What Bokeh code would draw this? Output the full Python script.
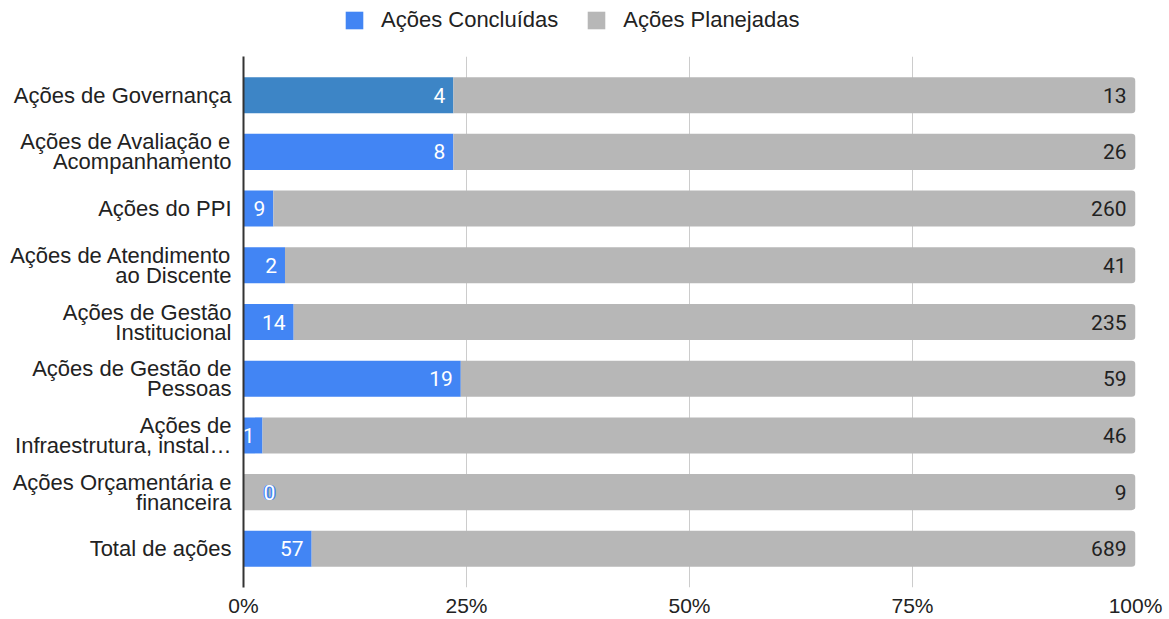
from bokeh.plotting import figure
from bokeh.layouts import column
from bokeh.models import (ColumnDataSource, FactorRange, FixedTicker, NumeralTickFormatter,
                          Legend, LegendItem, Range1d)
from bokeh.core.properties import value
from bokeh.embed import file_html
from bokeh.resources import INLINE

categories = [
    "Ações de Governança",
    "Ações de Avaliação e\nAcompanhamento",
    "Ações do PPI",
    "Ações de Atendimento\nao Discente",
    "Ações de Gestão\nInstitucional",
    "Ações de Gestão de\nPessoas",
    "Ações de\nInfraestrutura, instal…",
    "Ações Orçamentária e\nfinanceira",
    "Total de ações",
]
concluidas = [4, 8, 9, 2, 14, 19, 1, 0, 57]
planejadas = [13, 26, 260, 41, 235, 59, 46, 9, 689]
tick_values = [0, 0.25, 0.5, 0.75, 1.0]
series_names = ["Ações Concluídas", "Ações Planejadas"]

BLUE = "#4285f4"
BLUE_HI = "#3d85c6"
GRAY = "#b7b7b7"
TEXT = "#222222"
AXIS_FONT = "Liberation Sans"
DATA_FONT = "Roboto"
highlight_index = 0

totals = [c + p for c, p in zip(concluidas, planejadas)]
frac_c = [c / t for c, t in zip(concluidas, totals)]
ones = [1.0] * len(categories)
blue_colors = [BLUE_HI if i == highlight_index else BLUE for i in range(len(categories))]

src = ColumnDataSource(dict(cat=categories, fc=frac_c, one=ones, zero=[0.0] * len(categories),
                            c=[str(v) for v in concluidas], p=[str(v) for v in planejadas],
                            bcol=blue_colors))

# ---------------- legend strip ----------------
lf = figure(width=1169, height=56, output_backend="svg", toolbar_location=None,
            x_range=Range1d(0, 1), y_range=Range1d(0, 1), min_border=0,
            outline_line_color=None)
lf.axis.visible = False
lf.grid.visible = False
# swatch renderers for the legend (kept outside the visible range)
swatch = ColumnDataSource(dict(y=[-5], left=[0], right=[0]))
lb = lf.hbar(y="y", left="left", right="right", height=1, source=swatch,
             fill_color=BLUE, line_color=None)
lg = lf.hbar(y="y", left="left", right="right", height=1, source=swatch,
             fill_color=GRAY, line_color=None)
legend = Legend(items=[LegendItem(label=series_names[0], renderers=[lb]),
                       LegendItem(label=series_names[1], renderers=[lg])],
                orientation="horizontal", location=(100, 23),
                label_text_font=AXIS_FONT, label_text_font_size="22px",
                label_text_color=TEXT, glyph_width=22, glyph_height=22,
                label_standoff=16, spacing=27, padding=0, margin=0,
                border_line_color=None, background_fill_alpha=0)
lf.add_layout(legend, "center")

# ---------------- main chart ----------------
p = figure(width=1169, height=563, output_backend="svg", toolbar_location=None,
           y_range=FactorRange(factors=categories[::-1], range_padding=0.182,
                               range_padding_units="absolute"),
           x_range=Range1d(0, 1),
           min_border_left=243, min_border_right=34, min_border_top=0, min_border_bottom=20,
           outline_line_color=None)

rb = p.hbar(y="cat", left="zero", right="fc", height=0.636, source=src,
            fill_color="bcol", line_color=None)
rg = p.hbar(y="cat", left="fc", right="one", height=0.636, source=src,
            fill_color=GRAY, line_color=None, border_radius=(0, 4, 4, 0))

# labels for concluded (inside blue bar, right aligned)
in_idx = [i for i, v in enumerate(concluidas) if v > 0]
zero_idx = [i for i, v in enumerate(concluidas) if v == 0]
src_in = ColumnDataSource(dict(cat=[categories[i] for i in in_idx],
                               x=[frac_c[i] for i in in_idx],
                               t=[str(concluidas[i]) for i in in_idx]))
p.text(x="x", y="cat", text="t", source=src_in, x_offset=-8, text_align="right",
       text_baseline="middle", text_color="white", text_font=value(DATA_FONT),
       text_font_size="21px")
src_zero = ColumnDataSource(dict(cat=[categories[i] for i in zero_idx],
                                 x=[frac_c[i] for i in zero_idx],
                                 t=[str(concluidas[i]) for i in zero_idx]))
for dx in (19, 21):
    p.text(x="x", y="cat", text="t", source=src_zero, x_offset=dx, text_align="left",
           text_baseline="middle", text_color=BLUE, text_font=value(DATA_FONT),
           text_font_style="bold", text_font_size="21px")
p.text(x="x", y="cat", text="t", source=src_zero, x_offset=20, text_align="left",
       text_baseline="middle", text_color="white", text_font=value(DATA_FONT),
       text_font_size="21px")

# labels for planned (right end)
p.text(x="one", y="cat", text="p", source=src, x_offset=-9, text_align="right",
       text_baseline="middle", text_color=TEXT, text_font=value(DATA_FONT),
       text_font_size="21px")

# axes
p.xaxis.ticker = FixedTicker(ticks=tick_values)
p.xaxis.formatter = NumeralTickFormatter(format="0%")
p.xaxis.axis_line_color = None
p.xaxis.major_tick_line_color = None
p.xaxis.major_tick_out = 0
p.xaxis.minor_tick_line_color = None
p.xaxis.minor_tick_out = 0
p.xaxis.major_label_text_font = AXIS_FONT
p.xaxis.major_label_text_font_size = "21px"
p.xaxis.major_label_text_color = TEXT
p.xaxis.major_label_standoff = 6

p.yaxis.axis_line_color = "#333333"
p.yaxis.axis_line_width = 2
p.yaxis.major_tick_line_color = None
p.yaxis.major_tick_out = 0
p.yaxis.minor_tick_line_color = None
p.yaxis.minor_tick_out = 0
p.yaxis.major_label_text_font = AXIS_FONT
p.yaxis.major_label_text_font_size = "22px"
p.yaxis.major_label_text_color = TEXT
p.yaxis.major_label_standoff = 12
p.yaxis.major_label_text_line_height = 0.8

p.ygrid.grid_line_color = None
p.xgrid.ticker = FixedTicker(ticks=tick_values)
p.xgrid.grid_line_color = "#cccccc"
p.xgrid.grid_line_width = 1

layout = column(lf, p, spacing=0)
open("out.html", "w").write(file_html(layout, INLINE))
